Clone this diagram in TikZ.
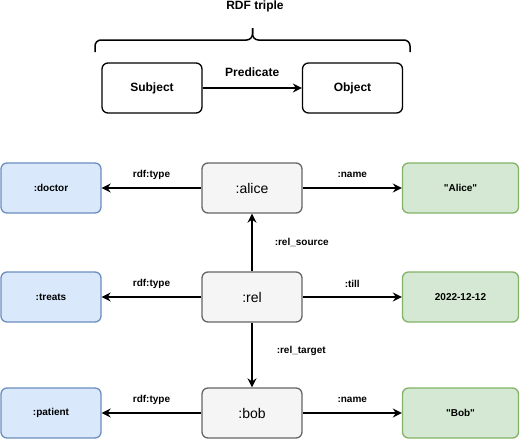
\documentclass[tikz,border=0pt]{standalone}
\usepackage{fontspec}
\setmainfont{Liberation Sans}
\usetikzlibrary{arrows.meta}
\definecolor{clsfill}{HTML}{DAE8FC}
\definecolor{clsline}{HTML}{6C8EBF}
\definecolor{litfill}{HTML}{D5E8D4}
\definecolor{litline}{HTML}{82B366}
\definecolor{resfill}{HTML}{F5F5F5}
\definecolor{resline}{HTML}{666666}
\tikzset{
  box/.style={draw, rounded corners=6pt, line width=1.3pt, minimum width=100pt,
    minimum height=50pt, inner sep=0pt, font=\bfseries\fontsize{10}{12}\selectfont},
  triple/.style={box, fill=white, font=\bfseries\fontsize{12}{14}\selectfont},
  cls/.style={box, draw=clsline, fill=clsfill},
  res/.style={box, draw=resline, fill=resfill, font=\fontsize{14}{16}\selectfont},
  lit/.style={box, draw=litline, fill=litfill, minimum width=116pt},
  lbl/.style={inner sep=0pt, font=\bfseries\fontsize{10}{12}\selectfont},
  biglbl/.style={inner sep=0pt, font=\bfseries\fontsize{12}{14}\selectfont},
  edge/.style={->, line width=1.5pt},
  >={Stealth[length=9pt,width=9pt,inset=3pt]}
}

\begin{document}
\begin{tikzpicture}[x=1pt, y=-1pt]
\useasboundingbox (0,0) rectangle (520,440);

% the triple pattern
\node [biglbl] (title) at (255,6) {RDF triple};
\coordinate (brl) at (95,52);
\coordinate (brr) at (410,52);
\coordinate (brm) at (252.5,40);
\coordinate (brt) at (252.5,28);
\draw [line width=1.5pt, rounded corners=6pt] (brl) |- (brm) -- (brt);
\draw [line width=1.5pt, rounded corners=6pt] (brr) |- (brm) -- (brt);

\node [triple] (subj) at (152,88) {Subject};
\node [triple] (obj)  at (352.5,88) {Object};
\draw [edge] (subj) to node [biglbl, midway, yshift=16pt] (pred) {Predicate} (obj);

% row 1
\node [cls] (doctor) at (51,188)    {:doctor};
\node [res] (alice)  at (252,188)   {:alice};
\node [lit] (aname)  at (460.5,188) {\textquotedbl Alice\textquotedbl};
\draw [edge] (alice) to node [lbl, midway, yshift=13pt] (t1) {rdf:type} (doctor);
\draw [edge] (alice) to node [lbl, midway, yshift=13pt] (n1) {:name} (aname);

% row 2
\node [cls] (treats) at (51,297)    {:treats};
\node [res] (rel)    at (252,297)   {:rel};
\node [lit] (till)   at (460.5,297) {2022-12-12};
\draw [edge] (rel) to node [lbl, midway, yshift=13pt] (t2) {rdf:type} (treats);
\draw [edge] (rel) to node [lbl, midway, yshift=13pt] (n2) {:till} (till);

% row 3
\node [cls] (patient) at (51,413)    {:patient};
\node [res] (bob)     at (252,413)   {:bob};
\node [lit] (bname)   at (460.5,413) {\textquotedbl Bob\textquotedbl};
\draw [edge] (bob) to node [lbl, midway, yshift=13pt] (t3) {rdf:type} (patient);
\draw [edge] (bob) to node [lbl, midway, yshift=13pt] (n3) {:name} (bname);

% links of the reified statement
\draw [edge] (rel) to node [lbl, midway, anchor=west, xshift=22pt] (src) {:rel\_source} (alice);
\draw [edge] (rel) to node [lbl, midway, anchor=west, xshift=24pt, yshift=4pt] (tgt) {:rel\_target} (bob);
\end{tikzpicture}
\end{document}
